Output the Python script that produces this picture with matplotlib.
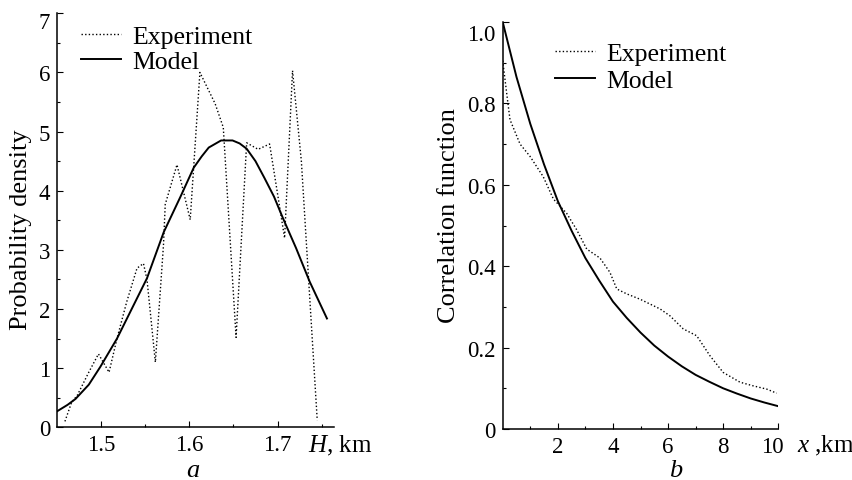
import matplotlib
matplotlib.use("Agg")
import matplotlib.pyplot as plt
from matplotlib.transforms import ScaledTranslation

plt.rcParams['font.family'] = ['Liberation Serif', 'DejaVu Serif']
plt.rcParams['mathtext.fontset'] = 'custom'
plt.rcParams['mathtext.rm'] = 'Liberation Serif'
plt.rcParams['mathtext.it'] = 'Liberation Serif:italic'

# ---- Panel a: probability density of H ----
h_exp = [1.4590, 1.4665, 1.473, 1.486, 1.497, 1.5090, 1.518, 1.529, 1.5407, 1.548,
         1.552, 1.5615, 1.5707, 1.5727, 1.586, 1.601, 1.612, 1.6293, 1.6385, 1.653,
         1.665, 1.678, 1.691, 1.708, 1.717, 1.727, 1.745]
p_exp = [0.10, 0.42, 0.54, 0.93, 1.24, 0.93, 1.50, 2.12, 2.69, 2.77,
         2.50, 1.10, 3.08, 3.77, 4.44, 3.51, 6.00, 5.47, 5.07, 1.52,
         4.81, 4.70, 4.79, 3.20, 6.03, 4.50, 0.12]
h_mod = [1.45, 1.462, 1.471, 1.486, 1.499, 1.518, 1.533, 1.552, 1.571, 1.590, 1.605,
         1.614, 1.622, 1.636, 1.649, 1.657, 1.665, 1.675, 1.685, 1.696, 1.706, 1.721,
         1.7365, 1.756]
p_mod = [0.27, 0.38, 0.48, 0.72, 1.02, 1.50, 1.95, 2.52, 3.30, 3.90, 4.39,
         4.58, 4.73, 4.85, 4.85, 4.80, 4.71, 4.50, 4.22, 3.90, 3.54, 3.03,
         2.46, 1.84]
a_xticks = [1.5, 1.6, 1.7]
a_yticks = [0, 1, 2, 3, 4, 5, 6, 7]

# ---- Panel b: correlation function ----
x_exp = [0.0, 0.19, 0.265, 0.63, 0.99, 1.47, 1.84, 2.32, 2.68, 3.05, 3.53, 3.89,
         4.14, 4.50, 4.98, 5.71, 6.07, 6.55, 7.04, 7.52, 8.00, 8.61, 9.09, 9.58, 9.94]
c_exp = [0.905, 0.80, 0.76, 0.70, 0.67, 0.62, 0.565, 0.53, 0.49, 0.442, 0.42, 0.385,
         0.344, 0.332, 0.319, 0.295, 0.278, 0.246, 0.229, 0.18, 0.139, 0.115, 0.106, 0.098, 0.088]
x_mod = [0, 0.5, 1, 1.5, 2, 2.5, 3, 3.5, 4, 4.5, 5, 5.5, 6, 6.5, 7, 7.5, 8, 8.5, 9, 9.5, 10]
c_mod = [1.0, 0.865, 0.75, 0.65, 0.56, 0.487, 0.42, 0.365, 0.313, 0.273, 0.237, 0.205,
         0.178, 0.154, 0.133, 0.116, 0.100, 0.087, 0.075, 0.065, 0.056]
b_xticks = [2, 4, 6, 8, 10]
b_yticks = [0, 0.2, 0.4, 0.6, 0.8, 1.0]
b_ylabels = ["0", "0.2", "0.4", "0.6", "0.8", "1.0"]

W, H = 853, 481
fig = plt.figure(figsize=(W / 100, H / 100), dpi=100)
axa = fig.add_axes([57 / W, 1 - 428.3 / H, (334 - 57) / W, (428.3 - 14.3) / H])
axb = fig.add_axes([502.7 / W, 1 - 430 / H, (778.3 - 502.7) / W, (430 - 23) / H])

dot = (0, (1.0, 1.6))
TICK = 16.5
LEG = 18.5
LAB = 19

for ax in (axa, axb):
    for s in ('top', 'right'):
        ax.spines[s].set_visible(False)
    for s in ('left', 'bottom'):
        ax.spines[s].set_linewidth(1.1)
    ax.tick_params(which='both', direction='in', labelsize=TICK, width=0.8)
    ax.tick_params(which='major', length=4)
    ax.tick_params(which='minor', length=2.5)
    ax.tick_params(axis='y', pad=5)
    ax.tick_params(axis='x', pad=5)

# panel a
axa.plot(h_exp, p_exp, color='black', lw=1.0, ls=dot, label='Experiment')
axa.plot(h_mod, p_mod, color='black', lw=1.4, label='Model')
axa.set_xlim(1.45, 1.764)
axa.set_ylim(0, 7)
axa.set_xticks(a_xticks)
axa.set_xticklabels([f"{v:.1f}" for v in a_xticks])
axa.set_xticks([1.55, 1.65, 1.75], minor=True)
axa.set_yticks(a_yticks)
axa.set_yticks([v + 0.5 for v in a_yticks[:-1]], minor=True)
axa.set_ylabel("Probability density", fontsize=LAB)
axa.yaxis.set_label_coords(-0.13, 0.479)
axa.yaxis.label.set_verticalalignment('center')
axa.legend(loc='center left', bbox_to_anchor=(0.087, 0.913), frameon=False,
           fontsize=LEG, handlelength=1.55, handletextpad=0.45,
           labelspacing=0.09, borderpad=0, borderaxespad=0)
fig.text(308 / W, 1 - 446 / H, "$H$, km", fontsize=LAB - 1, ha='left', va='center')
fig.text(193 / W, 1 - 471 / H, "$a$", fontsize=LAB, ha='center', va='center')

# panel b
axb.plot(x_exp, c_exp, color='black', lw=1.0, ls=dot, label='Experiment')
axb.plot(x_mod, c_mod, color='black', lw=1.4, label='Model')
axb.set_xlim(0, 10)
axb.set_ylim(0, 1.0)
axb.set_xticks(b_xticks)
axb.set_xticklabels([str(v) for v in b_xticks])
axb.set_xticks([1, 3, 5, 7, 9], minor=True)
axb.set_yticks(b_yticks)
axb.set_yticklabels(b_ylabels)
axb.set_yticks([0.1, 0.3, 0.5, 0.7, 0.9], minor=True)
axb.set_ylabel("Correlation function", fontsize=LAB)
axb.yaxis.set_label_coords(-0.195, 0.528)
axb.yaxis.label.set_verticalalignment('center')
axb.legend(loc='center left', bbox_to_anchor=(0.19, 0.889), frameon=False,
           fontsize=LEG, handlelength=1.55, handletextpad=0.45,
           labelspacing=0.18, borderpad=0, borderaxespad=0)
fig.text(797 / W, 1 - 446 / H, "$x$ ,km", fontsize=LAB - 1, ha='left', va='center')
fig.text(676 / W, 1 - 471 / H, "$b$", fontsize=LAB, ha='center', va='center')

# shift top tick labels slightly down, as in the reference
lab7 = axa.get_yticklabels()[-1]
lab7.set_transform(lab7.get_transform() + ScaledTranslation(0, -7 / 100, fig.dpi_scale_trans))
lab10 = axb.get_yticklabels()[-1]
lab10.set_transform(lab10.get_transform() + ScaledTranslation(0, -10 / 100, fig.dpi_scale_trans))
labx10 = axb.get_xticklabels()[-1]
labx10.set_transform(labx10.get_transform() + ScaledTranslation(-6 / 100, 0, fig.dpi_scale_trans))

fig.savefig("out.png", dpi=100, facecolor='white')
